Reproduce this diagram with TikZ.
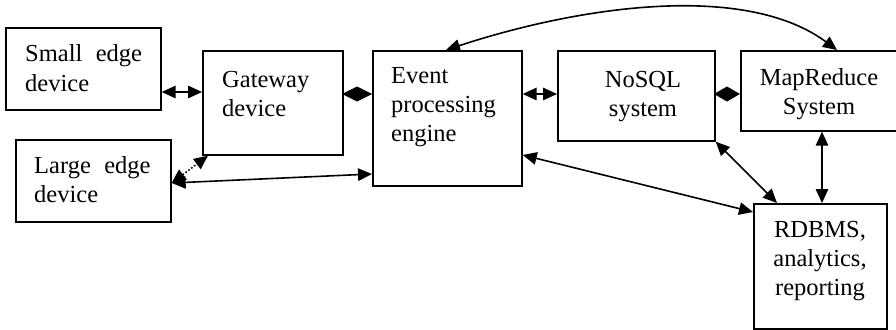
\documentclass[tikz,border=0pt]{standalone}
\usepackage{fontspec}
\setmainfont{Liberation Serif}
\usetikzlibrary{arrows.meta}

\tikzset{
  box/.style={draw, line width=1.7pt, anchor=north west, inner sep=0pt},
  txt/.style={font=\fontsize{24.5}{29}\selectfont, inner sep=0pt},
}

\begin{document}
\begin{tikzpicture}[x=1pt, y=-1pt,
    >={Triangle[length=14pt,width=12.5pt]},
    link/.style={line width=1.6pt, <->},
    diam/.style={line width=1.6pt, -{Diamond[length=#1,width=15pt]}}]
        \useasboundingbox (0,0) rectangle (896,329);

        % boxes
        \node[box, minimum width=155, minimum height=82] (small) at (5,27) {};
        \node[box, minimum width=155, minimum height=82] (large) at (15,139) {};
        \node[box, minimum width=140, minimum height=104] (gate) at (202,50) {};
        \node[box, minimum width=149, minimum height=135] (event) at (372,50) {};
        \node[box, minimum width=157, minimum height=90] (nosql) at (557,50) {};
        \node[box, minimum width=160, minimum height=80] (mapred) at (740,50) {};
        \node[box, minimum width=133, minimum height=125] (rdbms) at (753,203) {};

        % texts (anchored at the baseline of the last line)
        \node[txt, align=left, anchor=base west] (smalltxt) at (25,91) {Small\hspace{0.3em} edge\\device};
        \node[txt, align=left, anchor=base west] (largetxt) at (34,202) {Large\hspace{0.3em} edge\\device};
        \node[txt, align=left, anchor=base west] (gatetxt) at (222,116) {Gateway\\device};
        \node[txt, align=left, anchor=base west] (eventtxt) at (391,141) {Event\\processing\\engine};
        \node[txt, align=center, anchor=base] (nosqltxt) at (643,116) {NoSQL\\system};
        \node[txt, align=center, anchor=base] (mapredtxt) at (819,114) {MapReduce\\System};
        \node[txt, align=center, anchor=base] (rdbmstxt) at (820,295) {RDBMS,\\analytics,\\reporting};

        % connectors
        \draw[link] (small.east |- 0,92) -- (gate.west |- 0,92);
        \draw[diam=30pt] (gate.east |- 0,94) -- (event.west |- 0,94);
        \draw[link] (event.east |- 0,94) -- (nosql.west |- 0,94);
        \draw[diam=26pt] (nosql.east |- 0,94) -- (mapred.west |- 0,94);
        \draw[link] (large.east |- 0,183) -- (event.west |- 0,174);
        \draw[link, dotted] (large.east |- 0,183) -- ([xshift=6]gate.south west);
        \draw[link] (event.east |- 0,155) -- (rdbms.west |- 0,212);
        \draw[link] (nosql.south east) -- ([xshift=24]rdbms.north west);
        \draw[link] (822,0 |- mapred.south) -- (822,0 |- rdbms.north);
        \draw[link] ([xshift=74]event.north west) .. controls (580,6) and (745,-18) .. ([xshift=97]mapred.north west);
\end{tikzpicture}
\end{document}
